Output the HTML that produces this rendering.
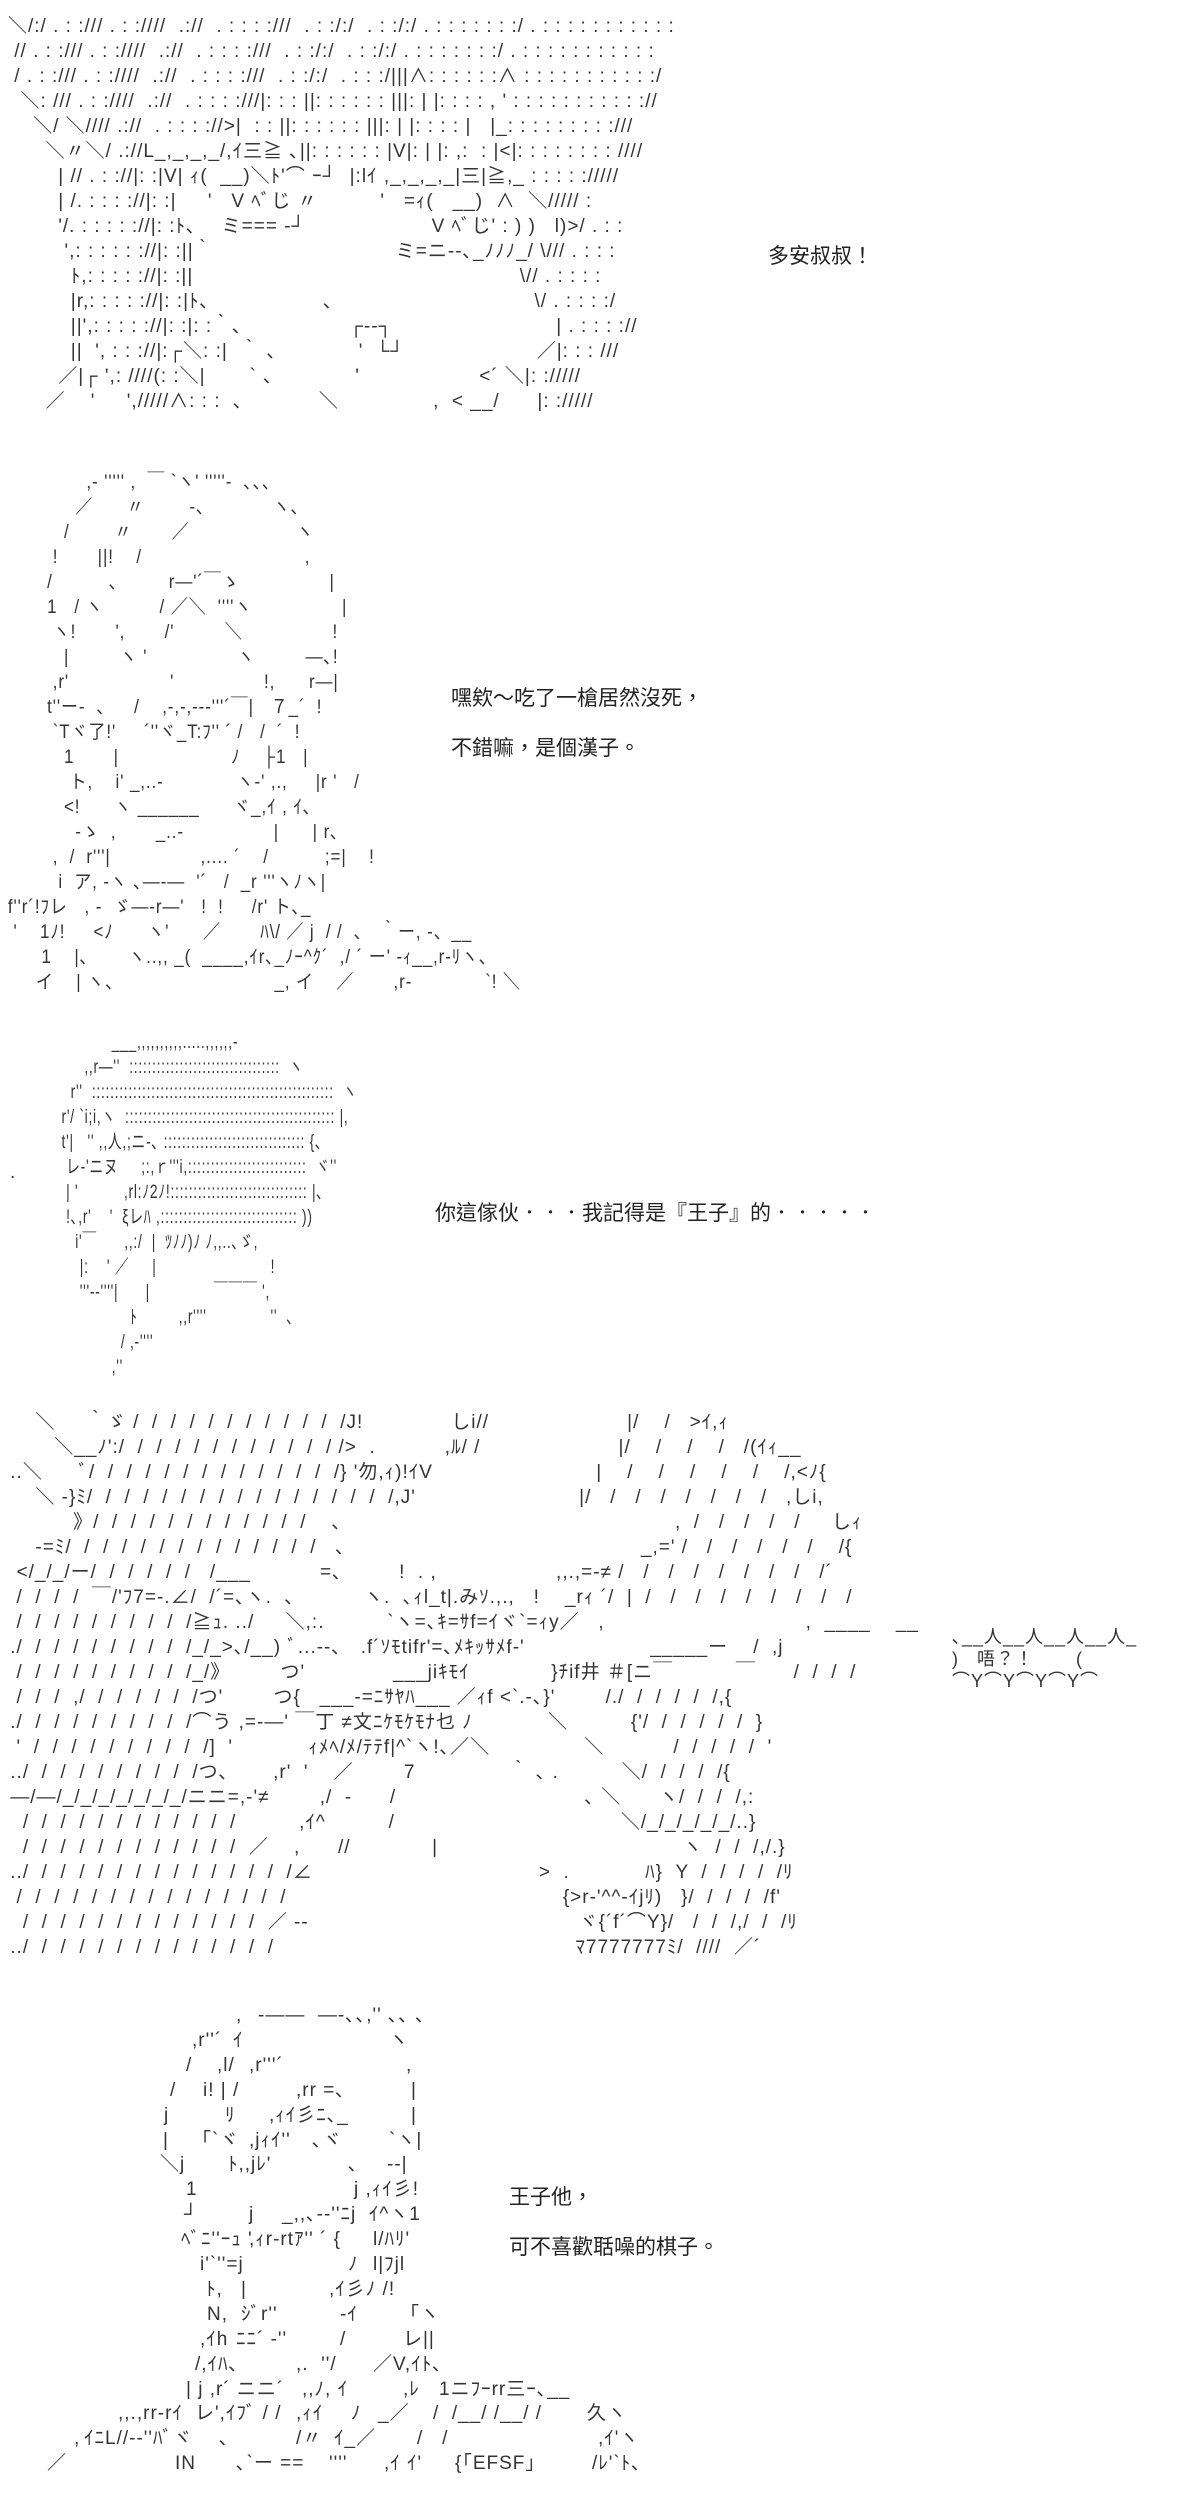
<!DOCTYPE html>
<html><head><meta charset="utf-8">
<style>
body{margin:0;background:#fff;width:1200px;height:2501px;position:relative;overflow:hidden}
pre{position:absolute;margin:0;font-family:"Liberation Sans","Noto Sans CJK JP",sans-serif;font-size:19px;line-height:25px;color:#333;white-space:pre;letter-spacing:1px;transform-origin:0 0}
.t{position:absolute;font-family:"Liberation Sans","Noto Sans CJK TC",sans-serif;font-size:21px;color:#222;white-space:nowrap}
.s{position:absolute;font-family:"Liberation Sans","Noto Sans CJK JP",sans-serif;font-size:19px;line-height:25px;color:#333;white-space:pre;letter-spacing:1px}
</style></head><body>

<pre style="left:8px;top:14px">＼/:/ . : :/// . : :////  .://  . : : : :///  . : :/:/  . : :/:/ . : : : : : : :/ . : : : : : : : : : : :
 // . : :/// . : :////  .://  . : : : :///  . : :/:/  . : :/:/ . : : : : : : :/ . : : : : : : : : : : :
 / . : :/// . : :////  .://  . : : : :///  . : :/:/  . : : :/|||∧: : : : : :∧ : : : : : : : : : : :/
  ＼: /// . : :////  .://  . : : : :///|: : : ||: : : : : : |||: | |: : : : , ' : : : : : : : : : : ://
    ＼/ ＼//// .://  . : : : ://&gt;|  : : ||: : : : : : |||: | |: : : : |   |_: : : : : : : : :///
      ＼〃＼/ .://L_,_,_,_/,ｲ三≧ ､||: : : : : : |V|: | |: ,:  : |&lt;|: : : : : : : : ////
        | // . : ://|: :|V| ｨ(  __)＼ﾄ'⌒ ｰ┘  |:lｲ ,_,_,_,_|三|≧,_ : : : : ://///
        | /. : : : ://|: :|     '   V ﾍﾞじ 〃          '   =ｨ(   __)  ∧  ＼///// :
        '/. : : : : ://|: :ﾄ､    ミ=== -┘                    V ﾍﾞじ' : ) )   l)&gt;/ . : :
         ',: : : : : ://|: :||｀                             ミ=ニ--､_ﾉﾉﾉ_/ \/// . : : :
          ﾄ,: : : : ://|: :||                                                    \// . : : : :
          |r,: : : : ://|: :|ﾄ､                  ､                                \/ . : : : :/
          ||',: : : : ://|: :|: :｀､                 ┌‐‐┐                          | . : : : ://
          ||  ', : : ://|:┌＼: :|  ｀ ､             '  └┘                     ／|: : : ///
        ／|┌ ',: ////(: :＼|       ` ､             '                   &lt;´ ＼|: ://///
      ／    '     ',/////∧: : :  ､            ＼               ,  &lt; __/      |: ://///</pre>
<div class="t" style="left:768px;top:240px">多安叔叔！</div>

<pre style="left:-9px;top:470px;transform:scaleX(0.894)">                 ,- ''''' ,  ￣ `ヽ' '''''‐  ､､､
               ／      〃        -､            ヽ､
             /        〃       ／                   ヽ
           !       ||!    /                             ,
          /          ､         r―'´￣ゝ                |
          1   / ヽ          / ／＼  ''''ヽ                |
           ヽ!       ',       /'         ＼                !
             |         ヽ '                ヽ         ―､!
           ,r'                  '                !,      r―|
          t''ー-  ､     /    ,-,-,--‐'''´￣|   ７_´  !
           `Tヾ了!'     ´''ヾ_T:ﾌ'' ´ /   /  ´  !
             1       |                    ﾉ    ├1   |
              ト,    i' _,..-             ヽ-' ,.,     |r '   /
             &lt;!      ヽ ______      ヾ_,ｲ , ｲ､
               -ゝ  ,       _..-                |      | r､
           ,  /  r'''|                ,.... ´    /          ;=|    !
            i  ア, ‐ヽ ､―‐―  '´   /  _r '''ヽﾉヽ|
   f''r´!ﾌレ   , ‐  ゞ―‐r―'   !  !     /r' ト､_
    '    1ﾉ!     &lt;ﾉ      ヽ'      ／       ﾊ\/ ／ j  / /  ､   ｀ー, ‐、__
         1    |､       ヽ..,, _(  ____,ｲr､_ﾉｰ^ｸ´  ,/ ´ ー' ‐ｨ__,r‐ﾘヽ､
        イ    | ヽ、                           _, イ    ／       ,r‐             `! ＼</pre>
<div class="t" style="left:451px;top:682px">嘿欸～吃了一槍居然沒死，</div>
<div class="t" style="left:451px;top:732px">不錯嘛，是個漢子。</div>

<pre style="left:25px;top:1030px;transform:scaleX(0.727)">                   ___,,,,,,,,,,.....,,,,,,-
             ,,r―''  :::::::::::::::::::::::::::::::::  ヽ
          r''  :::::::::::::::::::::::::::::::::::::::::::::::::::::  ヽ
        r'/ `i;i,ヽ  :::::::::::::::::::::::::::::::::::::::::::::: |,
        t'|   '' ,,人,;ニ-､ ::::::::::::::::::::::::::::::: {､
         レ-'ニヌ     ;:,ｒ'''i,::::::::::::::::::::::::::  ヾ''
         | '          ,rl:ﾉ2ﾉ!:::::::::::::::::::::::::::::: |､
         !､,r'    '  ξレﾊ ,:::::::::::::::::::::::::::::: ))
           i'￣      ,,:/  |  ﾂﾉﾉ)ﾉ ﾉ,,..､ゞ,
            |:    ' ／     |                         !
            '''--''''|      |              ￣￣￣ ',
                       ﾄ         ,,r''''              ''  ､
                     / ,-''''
                   ,''</pre>
<div class="s" style="left:10px;top:1160px">.</div>
<div class="t" style="left:435px;top:1197px">你這傢伙．．．我記得是『王子』的．．．．．</div>

<pre style="left:4px;top:1410px">     ＼     ｀ゞ /  /  /  /  /  /  /  /  /  /  /  /J!              しi//                      |/    /   &gt;ｲ,ｨ
        ＼__ﾉ':/  /  /  /  /  /  /  /  /  /  /  / /&gt;  .           ,ﾙ/ /                      |/    /    /    /   /(ｲｨ__
 ..＼      ﾞ/  /  /  /  /  /  /  /  /  /  /  /  /  /} '勿,ｨ)!ｲV                          |    /    /    /    /    /    /,&lt;ﾉ{
     ＼ ‐}ﾐ/  /  /  /  /  /  /  /  /  /  /  /  /  /  /  /  /,J'                          |/   /   /   /   /   /   /   /   ,しi,
           》/  /  /  /  /  /  /  /  /  /  /  /    ､                                                     ,  /   /   /   /   /     しｨ
     -=ﾐ/  /  /  /  /  /  /  /  /  /  /  /  /  /   ､                                               _,=' /   /   /   /   /   /    /{
  &lt;/_/_/ー/  /  /  /  /  /   /___           =､         !  . ,                   ,,.,=‐≠ /   /   /   /   /   /   /   /   /´
  /  /  /  /  ￣/'ﾌ7=-.∠/  /´=､ヽ.  ､           ヽ.  ､ｨl_t|.みｿ.,.,   !    _rｨ ´/  |  /   /   /   /   /   /   /   /   /
  /  /  /  /  /  /  /  /  /  /≧ｭ. ../     ＼,:.          `ヽ=､ｷ=ｻf=ｲヾ`=ｨy／   ,                                ,  ____    __
 ./  /  /  /  /  /  /  /  /  /_/_&gt;､/__) ﾞ...‐-､   .f´ｿﾓtifr'=､ﾒｷｯｻﾒf‐'                    _____ー    /  ,j
  /  /  /  /  /  /  /  /  /  /_/》        つ'              ___jiｷﾓｲ             }ﾁif井 ＃[ニ￣          ￣      /  /  /  /
  /  /  /  ,/  /  /  /  /  /  /つ'        つ{   ___-=ﾆｻﾔﾊ___ ／ｨf &lt;`.-､}'        /./  /  /  /  /  /,{
 ./  /  /  /  /  /  /  /  /  /⌒う ,=-―' ￣丁 ≠文ﾆｹﾓｹﾓﾅ乜 ﾉ            ＼          {'/  /  /  /  /  /  }
  '  /  /  /  /  /  /  /  /  /  /]  '            ｨﾒﾍ/ﾒ/ﾃﾃf|^`ヽ!､／＼               ＼           /  /  /  /  /  '
 ../  /  /  /  /  /  /  /  /  /つ､       ,r'  '    ／        7               ｀ ､ .          ＼/  /  /  /  /{
 ―/―/_/_/_/_/_/_/_/ニニ=,‐'≠        ,/  ‐      /                              ､ ＼      ヽ/  /  /  /,:
   /  /  /  /  /  /  /  /  /  /  /  /          ,ｲ^          /                                    ＼/_/_/_/_/_/..}
   /  /  /  /  /  /  /  /  /  /  /  /  ／    ,      //             |                                       ヽ  /  /  /,/.}
 ../  /  /  /  /  /  /  /  /  /  /  /  /  /  /∠                                    &gt;  .            ﾊ}  Y  /  /  /  /  /ﾘ
  /  /  /  /  /  /  /  /  /  /  /  /  /  /  /                                            {&gt;r‐'^^‐ｲjﾘ)   }/  /  /  /  /f'
   /  /  /  /  /  /  /  /  /  /  /  /  /  ／ --                                           ヾ{´f´⌒Y}/   /  /  /,/  /  /ﾘ
 ../  /  /  /  /  /  /  /  /  /  /  /  /  /                                                ﾏ7777777ﾐ/  ////  ／´</pre>
<pre style="left:940px;top:1626px;font-size:18px;line-height:22px">  ､__人__人__人__人_
  )   唔？！       (
  ⌒Y⌒Y⌒Y⌒Y⌒</pre>

<div class="s" style="left:236px;top:2003px">,</div><div class="s" style="left:258px;top:2003px">-――  ―-､､,'' ､､ ､</div>
<div class="s" style="left:192px;top:2028px">,r''´</div><div class="s" style="left:233px;top:2028px">ｲ</div><div class="s" style="left:389px;top:2028px">ヽ</div>
<div class="s" style="left:186px;top:2053px">/</div><div class="s" style="left:217px;top:2053px">,l/</div><div class="s" style="left:249px;top:2053px">,r'''´</div><div class="s" style="left:406px;top:2053px">,</div>
<div class="s" style="left:170px;top:2078px">/</div><div class="s" style="left:203px;top:2078px">i! |</div><div class="s" style="left:233px;top:2078px">/</div><div class="s" style="left:296px;top:2078px">,rr =､</div><div class="s" style="left:411px;top:2078px">|</div>
<div class="s" style="left:164px;top:2103px">j</div><div class="s" style="left:225px;top:2103px">ﾘ</div><div class="s" style="left:269px;top:2103px">,ｨｲ彡ﾆ､_</div><div class="s" style="left:411px;top:2103px">|</div>
<div class="s" style="left:163px;top:2128px">|</div><div class="s" style="left:192px;top:2128px">「`ヾ</div><div class="s" style="left:249px;top:2128px">,jｨｲ''</div><div class="s" style="left:312px;top:2128px">､ヾ</div><div class="s" style="left:389px;top:2128px">`ヽ|</div>
<div class="s" style="left:160px;top:2152px">＼j</div><div class="s" style="left:228px;top:2152px">ﾄ,,jﾚ'</div><div class="s" style="left:348px;top:2152px">､</div><div class="s" style="left:387px;top:2152px">‐-|</div>
<div class="s" style="left:186px;top:2177px">1</div><div class="s" style="left:354px;top:2177px">j ,ｨｲ彡!</div>
<div class="s" style="left:184px;top:2202px">┘</div><div class="s" style="left:249px;top:2202px">j</div><div class="s" style="left:282px;top:2202px">_,,､--''ﾆj  ｲ^ヽ1</div>
<div class="s" style="left:181px;top:2227px">ﾍﾞﾆ''ｰｭ '</div><div class="s" style="left:249px;top:2227px">,ｨr‐rtｱ'' ´ {</div><div class="s" style="left:373px;top:2227px">l/ﾊﾘ'</div>
<div class="s" style="left:200px;top:2252px">i'`''=j</div><div class="s" style="left:348px;top:2252px">ﾉ</div><div class="s" style="left:373px;top:2252px">l|ﾌjl</div>
<div class="s" style="left:206px;top:2277px">ﾄ,</div><div class="s" style="left:241px;top:2277px">|</div><div class="s" style="left:329px;top:2277px">,ｲ彡ﾉ /!</div>
<div class="s" style="left:207px;top:2302px">N,</div><div class="s" style="left:241px;top:2302px">ｼﾞr''</div><div class="s" style="left:340px;top:2302px">‐ｲ</div><div class="s" style="left:400px;top:2302px">「ヽ</div>
<div class="s" style="left:200px;top:2327px">,ｲh</div><div class="s" style="left:236px;top:2327px">ﾆﾆ´ -''</div><div class="s" style="left:340px;top:2327px">/</div><div class="s" style="left:403px;top:2327px">レ||</div>
<div class="s" style="left:195px;top:2352px">/,ｲﾊ､</div><div class="s" style="left:296px;top:2352px">,.  ''/</div><div class="s" style="left:373px;top:2352px">／V,ｲﾄ､</div>
<div class="s" style="left:186px;top:2377px">| j ,r´ ニニ´</div><div class="s" style="left:302px;top:2377px">,,ﾉ, ｲ</div><div class="s" style="left:403px;top:2377px">,ﾚ</div><div class="s" style="left:439px;top:2377px">1ニﾌｰrr三ｰ､__</div>
<div class="s" style="left:118px;top:2401px">,,.,rr‐rｲ</div><div class="s" style="left:195px;top:2401px">レ',ｲﾌﾞ / /</div><div class="s" style="left:296px;top:2401px">,ｨｲ</div><div class="s" style="left:351px;top:2401px">ﾉ</div><div class="s" style="left:378px;top:2401px">_／</div><div class="s" style="left:433px;top:2401px">/  /__/ /__/ /</div><div class="s" style="left:587px;top:2401px">久ヽ</div>
<div class="s" style="left:74px;top:2426px">,</div><div class="s" style="left:84px;top:2426px">ｲﾆL//‐‐''ﾊﾞヾ</div><div class="s" style="left:219px;top:2426px">､</div><div class="s" style="left:296px;top:2426px">/〃</div><div class="s" style="left:334px;top:2426px">ｲ_／</div><div class="s" style="left:417px;top:2426px">/   /</div><div class="s" style="left:598px;top:2426px">,ｲ'ヽ</div>
<div class="s" style="left:47px;top:2451px">／</div><div class="s" style="left:175px;top:2451px">IN</div><div class="s" style="left:236px;top:2451px">､`ー ==</div><div class="s" style="left:329px;top:2451px">''''</div><div class="s" style="left:384px;top:2451px">,ｲ ｲ'</div><div class="s" style="left:455px;top:2451px">{「EFSF」</div><div class="s" style="left:592px;top:2451px">/ﾚ'`ﾄ､</div>

<div class="t" style="left:509px;top:2181px">王子他，</div>
<div class="t" style="left:509px;top:2231px">可不喜歡聒噪的棋子。</div>
</body></html>
